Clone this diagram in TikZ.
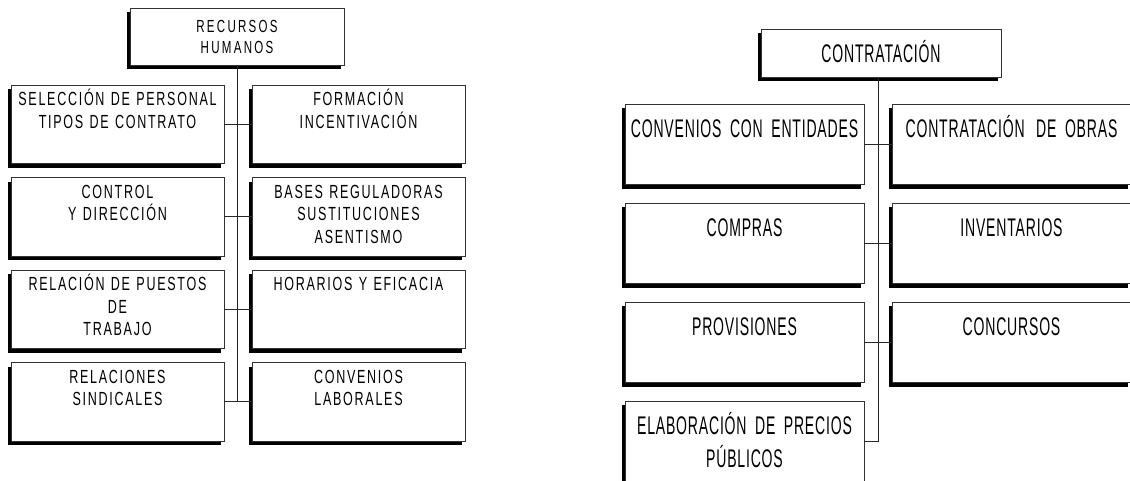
\documentclass[tikz,border=0pt]{standalone}
\usepackage{fontspec}
\newfontfamily\orgfont{Liberation Sans}[FakeStretch=0.66,LetterSpace=9]
\newfontfamily\orgfontnarrow{Liberation Sans}[FakeStretch=0.55,LetterSpace=3.2]
\usetikzlibrary{positioning,shadows,calc}
\tikzset{unit/.style={draw=black!80,fill=white,line width=0.8pt,inner sep=0pt,outer sep=0pt,align=center,
           drop shadow={shadow xshift=-3.5pt,shadow yshift=-4pt,fill=black,opacity=1}},
         rhbox/.style={unit,text width=213pt,text height=20.5pt,text depth=58pt,
           font=\orgfont\fontsize{19}{22.5}\selectfont},
         ctbox/.style={unit,text width=239pt,text height=33pt,text depth=47.5pt,
           font=\orgfontnarrow\fontsize{25.5}{33}\selectfont},
         link/.style={draw=black!85,line width=0.8pt}
}

\begin{document}
\begin{tikzpicture}[x=1pt,y=-1pt]
\useasboundingbox (0,0) rectangle (1130,480);

% recursos humanos
\node[unit,text width=214pt,text height=24pt,text depth=33pt,
      font=\orgfont\addfontfeature{LetterSpace=13}\fontsize{17.5}{21}\selectfont,
      anchor=north west] (rh) at (130,8) {RECURSOS\\HUMANOS};
\node[rhbox,anchor=north west] (sel) at (11,85) {SELECCIÓN DE PERSONAL\\TIPOS DE CONTRATO};
\node[rhbox,right=28pt of sel] (form) {FORMACIÓN\\INCENTIVACIÓN};
\node[rhbox,below=14pt of sel] (ctrl) {CONTROL\\Y DIRECCIÓN};
\node[rhbox,right=28pt of ctrl] (bases) {BASES REGULADORAS\\SUSTITUCIONES\\ASENTISMO};
\node[rhbox,below=14pt of ctrl] (rpt) {RELACIÓN DE PUESTOS\\DE\\TRABAJO};
\node[rhbox,right=28pt of rpt] (hor) {HORARIOS Y EFICACIA};
\node[rhbox,below=14pt of rpt] (sind) {RELACIONES\\SINDICALES};
\node[rhbox,right=28pt of sind] (lab) {CONVENIOS\\LABORALES};
\draw[link] (rh.south) -- (rh.south |- sind.east);
\draw[link] (sel.east) -- (form.west);
\draw[link] (ctrl.east) -- (bases.west);
\draw[link] (rpt.east) -- (hor.west);
\draw[link] (sind.east) -- (lab.west);

% contratacion
\node[unit,text width=240pt,text height=33pt,text depth=15pt,
      font=\orgfontnarrow\fontsize{25.5}{33}\selectfont,anchor=north west] (ct) at (761,29) {CONTRATACIÓN};
\node[ctbox,anchor=north west] (conve) at (625,104) {CONVENIOS CON ENTIDADES};
\node[ctbox,right=28pt of conve] (obras) {CONTRATACIÓN \hspace{3pt}DE OBRAS};
\node[ctbox,below=18.5pt of conve] (compras) {COMPRAS};
\node[ctbox,right=28pt of compras] (inv) {INVENTARIOS};
\node[ctbox,below=18.5pt of compras] (prov) {PROVISIONES};
\node[ctbox,right=28pt of prov] (conc) {CONCURSOS};
\node[ctbox,below=18.5pt of prov] (precios) {ELABORACIÓN DE PRECIOS\\PÚBLICOS};
\coordinate (spine) at ($(conve.east)!0.5!(obras.west)$);
\draw[link] (ct.south -| spine) -- (spine |- precios.east) -- (precios.east);
\draw[link] (conve.east) -- (obras.west);
\draw[link] (compras.east) -- (inv.west);
\draw[link] (prov.east) -- (conc.west);

\end{tikzpicture}
\end{document}
